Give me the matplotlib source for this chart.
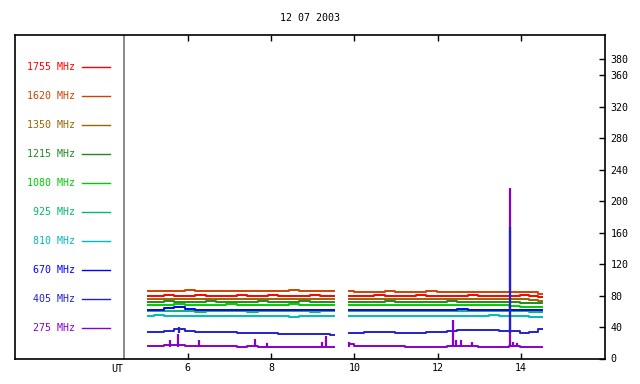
import matplotlib
matplotlib.use("Agg")
import matplotlib.pyplot as plt

# frequencies (legend, top to bottom) and colours
freqs = ["1755 MHz", "1620 MHz", "1350 MHz", "1215 MHz", "1080 MHz",
         "925 MHz", "810 MHz", "670 MHz", "405 MHz", "275 MHz"]
colors = ["#ff0000", "#cc4400", "#996600", "#228822", "#00cc00",
          "#00bb66", "#00bbbb", "#0000ff", "#2222cc", "#8800cc"]

# two observing segments (UT hours)
t_a = [5.05, 5.3, 5.55, 5.8, 6.05, 6.3, 6.55, 6.8, 7.05, 7.3,
       7.55, 7.8, 8.05, 8.3, 8.55, 8.8, 9.05, 9.3, 9.52]
t_b = [9.86, 10.1, 10.35, 10.6, 10.85, 11.1, 11.35, 11.6, 11.85, 12.1,
       12.35, 12.6, 12.85, 13.1, 13.35, 13.6, 13.85, 14.1, 14.3, 14.51]

# flux values per frequency, segment A
vals_a = {
    "1755 MHz": [80, 80, 81, 80, 80, 81, 80, 80, 80, 81, 80, 80, 81, 80, 80, 80, 81, 80, 80],
    "1620 MHz": [86, 86, 86, 86, 87, 86, 86, 86, 86, 86, 86, 86, 86, 86, 87, 86, 86, 86, 86],
    "1350 MHz": [76, 75, 76, 76, 75, 76, 76, 75, 76, 76, 76, 75, 76, 76, 75, 76, 76, 75, 76],
    "1215 MHz": [72, 72, 73, 72, 72, 72, 73, 72, 72, 72, 72, 73, 72, 72, 72, 73, 72, 72, 72],
    "1080 MHz": [68, 68, 68, 69, 68, 68, 68, 68, 69, 68, 68, 68, 68, 68, 69, 68, 68, 68, 68],
    "925 MHz": [60, 60, 60, 60, 60, 59, 60, 60, 60, 60, 59, 60, 60, 60, 60, 60, 59, 60, 60],
    "810 MHz": [54, 55, 54, 54, 54, 54, 54, 54, 54, 54, 54, 54, 54, 54, 53, 54, 54, 54, 54],
    "670 MHz": [62, 62, 64, 66, 63, 62, 62, 61, 61, 62, 61, 61, 61, 62, 62, 62, 62, 62, 62],
    "405 MHz": [34, 34, 35, 38, 35, 34, 34, 34, 34, 33, 33, 32, 32, 31, 31, 31, 31, 31, 30],
    "275 MHz": [16, 16, 17, 17, 16, 16, 16, 16, 16, 15, 16, 15, 15, 15, 15, 15, 15, 15, 14],
}
# segment B
vals_b = {
    "1755 MHz": [80, 80, 80, 81, 80, 80, 80, 81, 80, 80, 80, 80, 81, 80, 80, 80, 80, 81, 79, 78],
    "1620 MHz": [86, 85, 85, 85, 86, 85, 85, 85, 86, 85, 85, 85, 85, 85, 85, 85, 85, 85, 84, 82],
    "1350 MHz": [76, 76, 75, 76, 76, 76, 75, 76, 76, 75, 76, 76, 75, 76, 76, 75, 76, 75, 74, 73],
    "1215 MHz": [72, 72, 72, 72, 73, 72, 72, 72, 72, 72, 73, 72, 72, 72, 72, 72, 72, 71, 70, 70],
    "1080 MHz": [68, 68, 68, 68, 68, 68, 68, 68, 68, 68, 68, 68, 68, 68, 68, 68, 67, 66, 66, 65],
    "925 MHz": [60, 60, 60, 60, 60, 60, 60, 60, 60, 60, 60, 60, 60, 60, 60, 60, 60, 60, 59, 59],
    "810 MHz": [54, 54, 54, 54, 54, 54, 54, 54, 54, 54, 54, 54, 54, 54, 55, 54, 54, 54, 53, 53],
    "670 MHz": [62, 62, 62, 62, 62, 62, 62, 62, 62, 62, 62, 63, 62, 62, 62, 62, 62, 62, 62, 62],
    "405 MHz": [32, 33, 34, 34, 34, 33, 33, 33, 34, 34, 35, 36, 36, 36, 36, 35, 35, 33, 34, 37],
    "275 MHz": [18, 16, 16, 16, 16, 16, 15, 15, 15, 15, 16, 16, 16, 15, 15, 15, 16, 15, 15, 15],
}

# burst spikes (time, peak) for 275 and 405 MHz
spk_275_t = [5.57, 5.77, 6.27, 7.62, 7.89, 9.22, 9.31, 9.88, 12.38, 12.45, 12.55, 12.83, 13.73, 13.8, 13.9]
spk_275_v = [23, 31, 23, 25, 20, 21, 28, 21, 49, 23, 23, 21, 217, 21, 20]
spk_405_t = [5.78, 13.75]
spk_405_v = [40, 167]

ytick_vals = [0, 40, 80, 120, 160, 200, 240, 280, 320, 360, 380]
xtick_vals = [6, 8, 10, 12, 14]

mono = "DejaVu Sans Mono"
fs = 7.2

fig = plt.figure(figsize=(6.4, 3.84), dpi=100)
ax = fig.add_axes([15 / 640, 1 - 358.5 / 384, 590 / 640, 323.5 / 384])

for f, c in zip(freqs, colors):
    ax.plot(t_a, vals_a[f], color=c, lw=1.4, drawstyle="steps-mid")
    ax.plot(t_b, vals_b[f], color=c, lw=1.4, drawstyle="steps-mid")

ax.vlines(spk_275_t, 15, spk_275_v, color=colors[9], lw=1.6)
ax.vlines(spk_405_t, 33, spk_405_v, color=colors[8], lw=1.6)

ax.set_xlim(1.848, 16.02)
ax.set_ylim(0, 411)

# separator between legend area and data
ax.axvline(4.464, color="#777777", lw=1.2)

# legend on the left
for i, (f, c) in enumerate(zip(freqs, colors)):
    y = 1 - (67 + 29 * i - 35) / 323.5
    ax.text(75 / 590 - 15 / 590, y, f, transform=ax.transAxes, color=c,
            ha="right", va="center", family=mono, fontsize=fs)
    ax.plot([67 / 590, 95 / 590], [y, y], transform=ax.transAxes, color=c, lw=1.0)

ax.yaxis.tick_right()
ax.set_yticks(ytick_vals)
ax.set_yticklabels([str(v) for v in ytick_vals], family=mono, fontsize=fs)
ax.set_xticks(xtick_vals)
ax.set_xticklabels([str(v) for v in xtick_vals], family=mono, fontsize=fs)
ax.tick_params(axis="both", direction="in", length=4, width=1, top=True, pad=3)
ax.tick_params(axis="y", pad=4)

for s in ax.spines.values():
    s.set_linewidth(1.2)

ax.text(4.3, -13, "UT", ha="center", va="center", family=mono, fontsize=fs)
fig.text(310 / 640, 1 - 18 / 384, "12 07 2003", ha="center", va="center",
         family=mono, fontsize=fs)

fig.savefig("out.png", dpi=100)
